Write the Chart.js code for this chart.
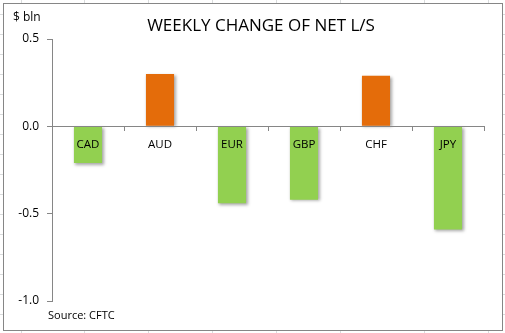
<!DOCTYPE html>
<html>
<head>
<meta charset="utf-8">
<script src="https://cdn.jsdelivr.net/npm/chart.js@4"></script>
<style>
  html, body { margin: 0; padding: 0; background: #fff; }
  #wrap { width: 505px; height: 333px; position: relative; }
</style>
</head>
<body>
<div id="wrap"><canvas id="myChart" width="505" height="333"></canvas></div>
<script>
const currencies = ['CAD', 'AUD', 'EUR', 'GBP', 'CHF', 'JPY'];
const weeklyChange = [-0.21, 0.30, -0.44, -0.42, 0.29, -0.59];
const yTicks = [0.5, 0.0, -0.5, -1.0];

const FONT = '"Open Sans", "Liberation Sans", sans-serif';
const ORANGE = '#E46C0A';
const GREEN = '#92D050';

// spreadsheet backdrop + chart frame + loose texts
const sheet = {
  id: 'sheet',
  beforeDraw(chart) {
    const c = chart.ctx;
    c.save();
    c.fillStyle = '#fff';
    c.fillRect(0, 0, chart.width, chart.height);
    c.strokeStyle = '#dadcdd';
    c.lineWidth = 1;
    const cols = [21, 84, 148, 212, 276, 340, 424, 488];
    cols.forEach(x => { c.beginPath(); c.moveTo(x + 0.5, 0); c.lineTo(x + 0.5, chart.height); c.stroke(); });
    for (let y = 14; y < chart.height; y += 20) {
      c.beginPath(); c.moveTo(0, y + 0.5); c.lineTo(chart.width, y + 0.5); c.stroke();
    }
    c.fillStyle = '#fff';
    c.fillRect(3, 3, 499, 327);
    c.strokeStyle = '#868686';
    c.strokeRect(3.5, 3.5, 499, 327);
    c.restore();
  },
  afterDraw(chart) {
    const c = chart.ctx;
    c.save();
    c.fillStyle = '#000';
    c.textBaseline = 'middle';
    c.textAlign = 'center';
    c.font = '17px ' + FONT;
    c.fillText('WEEKLY CHANGE OF NET L/S', 261, 26);
    c.textAlign = 'left';
    c.font = '12px ' + FONT;
    c.fillText('$ bln', 13, 18);
    c.font = '11px ' + FONT;
    c.fillText('Source: CFTC', 48, 316);
    c.restore();
  }
};

const barShadow = {
  id: 'barShadow',
  beforeDatasetsDraw(chart) {
    const c = chart.ctx;
    c.save();
    c.shadowColor = 'rgba(0,0,0,0.35)';
    c.shadowBlur = 3;
    c.shadowOffsetX = 1.5;
    c.shadowOffsetY = 1.5;
  },
  afterDatasetsDraw(chart) {
    chart.ctx.restore();
  }
};

const ctx = document.getElementById('myChart');

new Chart(ctx, {
  type: 'bar',
  data: {
    labels: currencies,
    datasets: [{
      data: weeklyChange,
      backgroundColor: weeklyChange.map(v => v > 0 ? ORANGE : GREEN),
      borderWidth: 0,
      barPercentage: 0.39,
      categoryPercentage: 1.0
    }]
  },
  options: {
    responsive: false,
    animation: false,
    layout: { padding: { top: 39, right: 21, bottom: 32, left: 0 } },
    plugins: {
      legend: { display: false },
      tooltip: { enabled: false }
    },
    scales: {
      x: {
        position: { y: 0 },
        grid: { display: true, offset: true, drawOnChartArea: false, tickLength: 4, color: '#868686', z: 1 },
        border: { display: true, color: '#868686', z: 1 },
        ticks: { color: '#000', font: { family: FONT, size: 11.5 }, padding: 7, z: 1 }
      },
      y: {
        min: -1.0,
        max: 0.5,
        afterFit(scale) { scale.width = 52; },
        afterBuildTicks(scale) { scale.ticks = yTicks.map(v => ({ value: v })); },
        grid: { drawOnChartArea: false, tickLength: 5, color: '#868686' },
        border: { display: true, color: '#868686' },
        ticks: {
          color: '#000',
          font: { family: FONT, size: 12 },
          padding: 8,
          callback: v => v.toFixed(1)
        }
      }
    }
  },
  plugins: [sheet, barShadow]
});
</script>
</body>
</html>
